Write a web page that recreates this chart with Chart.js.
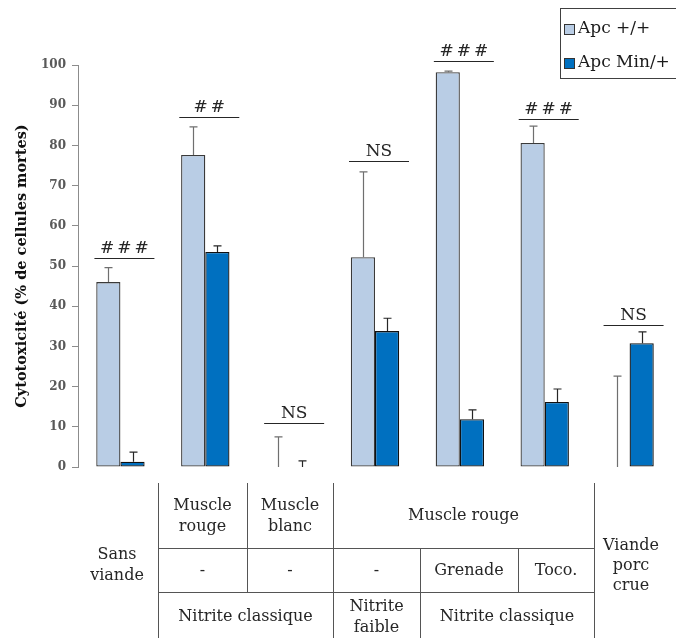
<!DOCTYPE html>
<html>
<head>
<meta charset="utf-8">
<script src="https://cdn.jsdelivr.net/npm/chart.js@4/dist/chart.umd.min.js"></script>
<style>
    html, body { margin: 0; padding: 0; background: #fff; }
    #box { width: 676px; height: 638px; position: relative; }
</style>
</head>
<body>
<div id="box"><canvas id="chart"></canvas></div>
<script>
const categories = ['Sans viande', 'Muscle rouge', 'Muscle blanc', 'Nitrite faible', 'Grenade', 'Toco.', 'Viande porc crue'];
const wildValues = [46, 77.6, 0, 52.2, 98.2, 80.6, 0];
const wildErrors = [3.6, 7, 7.5, 21.2, 0.3, 4.2, 22.6];
const minValues = [1.3, 53.5, 0, 33.8, 11.9, 16.2, 30.8];
const minErrors = [2.4, 1.5, 1.5, 3.2, 2.3, 3.2, 2.8];
const sigLabels = ['###', '##', 'NS', 'NS', '###', '###', 'NS'];
const sigLevels = [52, 87, 11, 76, 101, 86.5, 35.3];
const seriesNames = ['Apc +/+', 'Apc Min/+'];

// table under the axis (condition labels)
const tableTop = ['Muscle\nrouge', 'Muscle\nblanc', 'Muscle rouge'];
const tableMid = ['-', '-', '-', 'Grenade', 'Toco.'];
const tableBottom = ['Nitrite classique', 'Nitrite\nfaible', 'Nitrite classique'];
const tableOuter = ['Sans\nviande', 'Viande\nporc\ncrue'];

const SERIF = '"DejaVu Serif", serif';
const LIGHT = '#B9CDE5';
const DARK = '#0070C0';

function drawText(ctx, text, cx, cy, lineH) {
    const lines = text.split('\n');
    const start = cy - (lines.length - 1) * lineH / 2;
    lines.forEach((l, i) => ctx.fillText(l, cx, start + i * lineH));
}

const errorBars = {
    id: 'errorBars',
    afterDatasetsDraw(chart) {
        const ctx = chart.ctx;
        const y = chart.scales.y;
        const errs = [wildErrors, minErrors];
        const colors = ['#6f6f6f', '#262626'];
        chart.data.datasets.forEach((ds, i) => {
            const meta = chart.getDatasetMeta(i);
            meta.data.forEach((bar, j) => {
                const top = y.getPixelForValue(ds.data[j] + errs[i][j]);
                const base = y.getPixelForValue(ds.data[j]);
                const x = Math.round(bar.x) + 0.5;
                ctx.save();
                ctx.strokeStyle = colors[i];
                ctx.lineWidth = 1.2;
                ctx.beginPath();
                ctx.moveTo(x, base);
                ctx.lineTo(x, top);
                ctx.moveTo(x - 4, top);
                ctx.lineTo(x + 4, top);
                ctx.stroke();
                ctx.restore();
            });
        });
    }
};

const significance = {
    id: 'significance',
    afterDatasetsDraw(chart) {
        const ctx = chart.ctx;
        const xs = chart.scales.x;
        const ys = chart.scales.y;
        ctx.save();
        ctx.strokeStyle = '#262626';
        ctx.fillStyle = '#262626';
        ctx.lineWidth = 1;
        ctx.font = '17px ' + SERIF;
        ctx.textAlign = 'center';
        ctx.textBaseline = 'alphabetic';
        sigLabels.forEach((lab, i) => {
            const cx = xs.getPixelForValue(i) + 4;
            const ly = Math.round(ys.getPixelForValue(sigLevels[i])) + 0.5;
            ctx.beginPath();
            ctx.moveTo(cx - 30, ly);
            ctx.lineTo(cx + 30, ly);
            ctx.stroke();
            ctx.letterSpacing = lab.startsWith('#') ? '3px' : '0px';
            ctx.fillText(lab, cx + (lab.startsWith('#') ? 1.5 : 0), ly - 6);
        });
        ctx.restore();
    }
};

const boxLegend = {
    id: 'boxLegend',
    afterDraw(chart) {
        const ctx = chart.ctx;
        ctx.save();
        ctx.strokeStyle = '#404040';
        ctx.lineWidth = 1;
        ctx.strokeRect(560.5, 8.5, 130, 70);
        const fills = [LIGHT, DARK];
        ctx.font = '17px ' + SERIF;
        ctx.textBaseline = 'middle';
        ctx.textAlign = 'left';
        seriesNames.forEach((name, i) => {
            const cy = 29 + i * 34;
            ctx.fillStyle = fills[i];
            ctx.fillRect(564, cy - 5, 11, 11);
            ctx.strokeStyle = '#333';
            ctx.strokeRect(564.5, cy - 4.5, 10, 10);
            ctx.fillStyle = '#1a1a1a';
            ctx.fillText(name, 578, cy);
        });
        ctx.restore();
    }
};

const conditionTable = {
    id: 'conditionTable',
    afterDraw(chart) {
        const ctx = chart.ctx;
        const rows = [483, 548, 592, 638];
        ctx.save();
        ctx.strokeStyle = '#555';
        ctx.lineWidth = 1;
        const seg = (x1, y1, x2, y2) => {
            ctx.beginPath();
            ctx.moveTo(x1, y1);
            ctx.lineTo(x2, y2);
            ctx.stroke();
        };
        seg(158.5, rows[0], 158.5, rows[3]);
        seg(247.5, rows[0], 247.5, rows[2]);
        seg(333.5, rows[0], 333.5, rows[3]);
        seg(420.5, rows[1], 420.5, rows[3]);
        seg(518.5, rows[1], 518.5, rows[2]);
        seg(594.5, rows[0], 594.5, rows[3]);
        seg(158, rows[1] + 0.5, 594, rows[1] + 0.5);
        seg(158, rows[2] + 0.5, 594, rows[2] + 0.5);

        ctx.fillStyle = '#262626';
        ctx.font = '16px ' + SERIF;
        ctx.textAlign = 'center';
        ctx.textBaseline = 'middle';
        const topCells = [[158, 247], [247, 333], [333, 594]];
        const midCells = [[158, 247], [247, 333], [333, 420], [420, 518], [518, 594]];
        const botCells = [[158, 333], [333, 420], [420, 594]];
        tableTop.forEach((t, i) => drawText(ctx, t, (topCells[i][0] + topCells[i][1]) / 2, 516, 21));
        tableMid.forEach((t, i) => drawText(ctx, t, (midCells[i][0] + midCells[i][1]) / 2, 571, 21));
        tableBottom.forEach((t, i) => drawText(ctx, t, (botCells[i][0] + botCells[i][1]) / 2, 617, 21));
        drawText(ctx, tableOuter[0], 117, 565, 21);
        drawText(ctx, tableOuter[1], 631, 566, 20);
        ctx.restore();
    }
};

new Chart(document.getElementById('chart'), {
    type: 'bar',
    data: {
        labels: categories,
        datasets: [{
            label: seriesNames[0],
            data: wildValues,
            backgroundColor: LIGHT,
            borderColor: '#3a3a3a',
            borderWidth: (c) => c.raw === 0 ? 0 : 1.3,
            borderSkipped: false
        }, {
            label: seriesNames[1],
            data: minValues,
            backgroundColor: DARK,
            borderColor: '#111',
            borderWidth: (c) => c.raw === 0 ? 0 : 1.3,
            borderSkipped: false
        }]
    },
    options: {
        responsive: true,
        maintainAspectRatio: false,
        animation: false,
        layout: { padding: { left: 12, right: 4, top: 65, bottom: 171 } },
        datasets: { bar: { categoryPercentage: 0.57, barPercentage: 1.0 } },
        plugins: {
            legend: { display: false },
            tooltip: { enabled: false }
        },
        scales: {
            x: {
                grid: { display: false, drawTicks: false },
                border: { display: false },
                ticks: { display: false }
            },
            y: {
                min: 0,
                max: 100,
                afterFit: (scale) => { scale.width = 66; },
                ticks: {
                    stepSize: 10,
                    padding: 6,
                    color: '#595959',
                    font: { family: SERIF, size: 12, weight: 'bold' }
                },
                grid: { drawOnChartArea: false, drawTicks: true, tickLength: 6, color: '#8c8c8c' },
                border: { display: true, color: '#8c8c8c' },
                title: {
                    display: true,
                    text: 'Cytotoxicité (% de cellules mortes)',
                    color: '#111',
                    font: { family: SERIF, size: 14.5, weight: 'bold' },
                    padding: { top: 2, bottom: 0 }
                }
            }
        }
    },
    plugins: [errorBars, significance, boxLegend, conditionTable]
});
</script>
</body>
</html>
